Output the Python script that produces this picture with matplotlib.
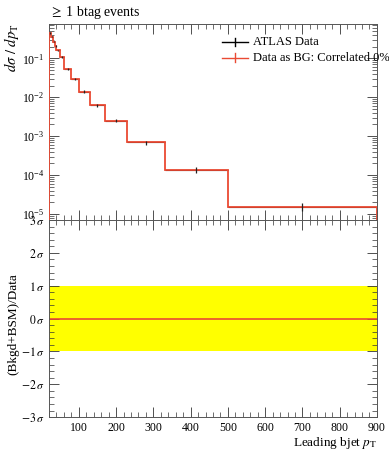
import numpy as np
import matplotlib
matplotlib.use("Agg")
import matplotlib.pyplot as plt
from matplotlib.ticker import MultipleLocator, FixedLocator, FixedFormatter, LogLocator, NullFormatter

plt.rcParams["font.family"] = ["Liberation Serif", "DejaVu Serif"]
plt.rcParams["mathtext.fontset"] = "stix"

# leading b-jet pT bins and measured cross section
bin_edges = [20, 25, 30, 35, 40, 50, 60, 80, 100, 130, 170, 230, 330, 500, 900]
xsec = [0.45, 0.36, 0.27, 0.21, 0.16, 0.11, 0.054, 0.029, 0.014, 0.0062,
        0.0025, 6.9e-4, 1.38e-4, 1.55e-5]
rel_err = [0.04, 0.04, 0.04, 0.04, 0.04, 0.05, 0.05, 0.06, 0.07, 0.08,
           0.10, 0.12, 0.20, 0.25]
sigma_ticks = [-3, -2, -1, 0, 1, 2, 3]

RED = "#ea4a33"

edges = np.array(bin_edges, dtype=float)
y = np.array(xsec)
centers = 0.5 * (edges[:-1] + edges[1:])
yerr = y * np.array(rel_err)

fig = plt.figure(figsize=(3.89, 4.5), dpi=100)
ax = fig.add_axes([0.126, 0.511, 0.843, 0.436])
rax = fig.add_axes([0.126, 0.073, 0.843, 0.438], sharex=ax)

# main panel
ax.errorbar(centers, y, xerr=0.5 * np.diff(edges), fmt="none", ecolor="black", lw=0.8, zorder=2)
ax.stairs(y, edges, color=RED, lw=1.3, zorder=3)
ax.errorbar(centers, y, yerr=yerr, fmt="none", ecolor="#222222", lw=0.9, zorder=4)
ax.set_yscale("log")
ax.set_xlim(20, 900)
ax.set_ylim(7e-6, 0.77)
ax.set_ylabel(r"$d\sigma\ /\ dp_\mathrm{T}$", fontsize=10.5, loc="top")
ax.yaxis.set_label_coords(-0.085, 1.0)
ax.set_title(r"$\geq$ 1 btag events", loc="left", fontsize=10, pad=6)
ax.yaxis.set_major_locator(LogLocator(base=10, numticks=10))
ax.yaxis.set_minor_locator(LogLocator(base=10, subs=np.arange(2, 10), numticks=10))
ax.yaxis.set_minor_formatter(NullFormatter())
plt.setp(ax.get_xticklabels(), visible=False)

# legend drawn by hand so the long label can run past the frame
tr = ax.transAxes
for yy, col, label in [(0.908, "black", "ATLAS Data"),
                       (0.827, RED, "Data as BG: Correlated 0%")]:
    ax.plot([0.527, 0.607], [yy, yy], color=col, lw=1.0, transform=tr, clip_on=False)
    ax.plot([0.567, 0.567], [yy - 0.022, yy + 0.022], color=col, lw=1.0, transform=tr, clip_on=False)
    ax.text(0.622, yy, label, transform=tr, fontsize=9, va="center", ha="left", clip_on=False)

# ratio panel
rax.axhspan(-1, 1, color="#ffff00", lw=0, zorder=1)
rax.axhline(0, color=RED, lw=1.2, zorder=2)
rax.set_ylim(-3, 3)
rax.yaxis.set_major_locator(FixedLocator(sigma_ticks))
rax.yaxis.set_major_formatter(FixedFormatter([r"$%d\,\sigma$" % s for s in sigma_ticks]))
rax.yaxis.set_minor_locator(MultipleLocator(0.2))
rax.set_ylabel("(Bkgd+BSM)/Data", fontsize=9.5)
rax.yaxis.set_label_coords(-0.09, 0.47)
rax.set_xlabel(r"Leading bjet $p_\mathrm{T}$", fontsize=9.5, loc="right", labelpad=1)
rax.xaxis.set_major_locator(FixedLocator([100, 200, 300, 400, 500, 600, 700, 800, 900]))
rax.xaxis.set_minor_locator(MultipleLocator(20))

for a in (ax, rax):
    a.tick_params(which="both", direction="in", top=True, right=True, labelsize=8.5, colors="#333333")
    a.tick_params(which="major", length=7, width=0.6)
    a.tick_params(which="minor", length=3.5, width=0.5)
    for s in a.spines.values():
        s.set_color("#555555")
        s.set_linewidth(0.7)
    for lab in a.get_yticklabels() + a.get_xticklabels():
        lab.set_color("black")

fig.savefig("out.png", dpi=100)
